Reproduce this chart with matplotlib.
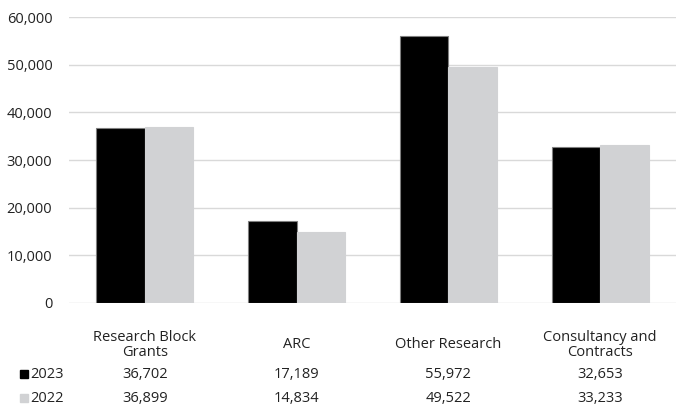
import matplotlib
matplotlib.use("Agg")
import matplotlib.pyplot as plt
import numpy as np
from matplotlib.transforms import blended_transform_factory
from matplotlib.ticker import FuncFormatter

categories = ["Research Block\nGrants", "ARC", "Other Research", "Consultancy and\nContracts"]
series_names = ["2023", "2022"]
values_2023 = [36702, 17189, 55972, 32653]
values_2022 = [36899, 14834, 49522, 33233]
colors = ["#000000", "#d1d2d4"]

plt.rcParams["font.family"] = ["Open Sans", "DejaVu Sans"]
TEXT = "#222222"
FS = 10.5

fig = plt.figure(figsize=(6.76, 4.08), dpi=100)
ax = fig.add_axes([69 / 676, 1 - 303 / 408, 1 - 69 / 676, (303 - 17) / 408])

x = np.arange(len(categories))
w = 0.32
ax.bar(x - w / 2, values_2023, w, color=colors[0], edgecolor="#7f7f7f", linewidth=0.8, zorder=3)
ax.bar(x + w / 2, values_2022, w, color=colors[1], edgecolor=colors[1], linewidth=0.8, zorder=3)

ax.set_xlim(-0.5, len(categories) - 0.5)
ax.set_ylim(0, 60000)
ax.set_yticks(np.arange(0, 60001, 10000))
ax.yaxis.set_major_formatter(FuncFormatter(lambda v, p: f"{int(v):,}"))
ax.tick_params(axis="y", length=0, pad=12, labelsize=FS, labelcolor=TEXT)
ax.set_xticks([])
ax.grid(axis="y", color="#d9d9d9", linewidth=1, zorder=0)
for s in ax.spines.values():
    s.set_visible(False)

# data table beneath the plot
tr = blended_transform_factory(ax.transData, fig.transFigure)
for i, cat in enumerate(categories):
    ax.text(x[i], 1 - 345 / 408, cat, transform=tr, ha="center", va="center",
            fontsize=FS, color=TEXT, linespacing=1.0, clip_on=False)
row_y = [1 - 374 / 408, 1 - 398 / 408]
for name, vals, col, yy in zip(series_names, [values_2023, values_2022], colors, row_y):
    fig.patches.append(plt.Rectangle((20 / 676, yy - 4 / 408), 8 / 676, 8 / 408,
                                     transform=fig.transFigure, color=col, figure=fig))
    fig.text(30 / 676, yy, name, ha="left", va="center", fontsize=FS, color=TEXT)
    for i, v in enumerate(vals):
        ax.text(x[i], yy, f"{v:,}", transform=tr, ha="center", va="center",
                fontsize=FS, color=TEXT, clip_on=False)

fig.savefig("out.png", dpi=100)
